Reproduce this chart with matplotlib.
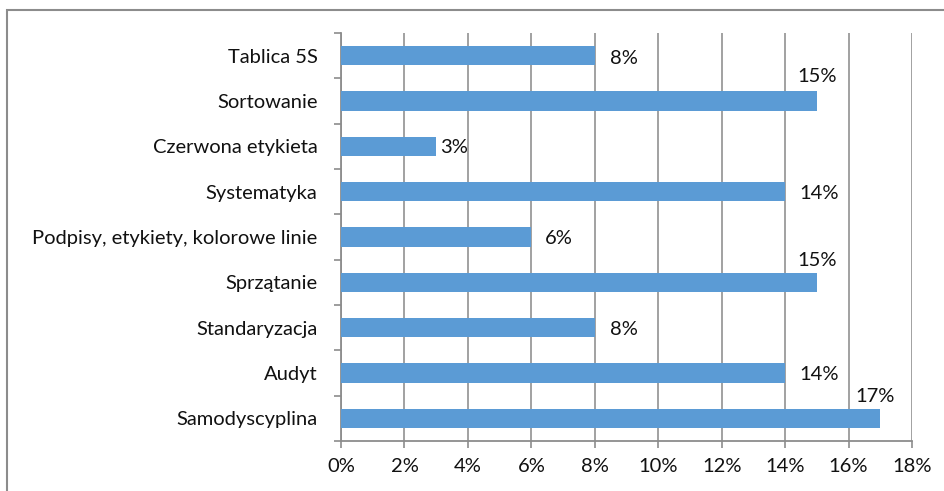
import numpy as np
import matplotlib.pyplot as plt
from matplotlib.patches import Rectangle

plt.rcParams['font.family'] = ['Lato', 'DejaVu Sans']

# data (top to bottom)
categories = ["Tablica 5S", "Sortowanie", "Czerwona etykieta", "Systematyka",
              "Podpisy, etykiety, kolorowe linie", "Sprzątanie", "Standaryzacja",
              "Audyt", "Samodyscyplina"]
values = [8, 15, 3, 14, 6, 15, 8, 14, 17]
xticks = [0, 2, 4, 6, 8, 10, 12, 14, 16, 18]

# label offsets in points (dx, dy, ha)
label_pos = [(11, -2, 'left'), (0, 18, 'center'), (3, -1, 'left'), (10, -1, 'left'),
             (10, -1, 'left'), (0, 16, 'center'), (11, -1, 'left'), (10, -1, 'left'),
             (-4, 16, 'center')]

FS = 14.5
TXT = '#111111'

fig = plt.figure(figsize=(9.44, 4.91), dpi=100)
ax = fig.add_axes([341/944, 50/491, (912-341)/944, (441-33)/491])

# outer chart frame
fig.patches.append(Rectangle((7/944, -0.05), 1.0, 1 - 10/491 + 0.05,
                             transform=fig.transFigure, fill=False,
                             edgecolor='#8c8c8c', linewidth=1.5))

y = np.arange(len(categories))
ax.barh(y, values, height=0.42, color='#5b9bd5', zorder=3)
ax.set_ylim(len(categories) - 0.5, -0.5)
ax.set_xlim(0, 18)

for i, v in enumerate(values):
    dx, dy, ha = label_pos[i]
    ax.annotate(f"{v}%", (v, i), xytext=(dx, dy), textcoords='offset points',
                ha=ha, va='center', fontsize=FS, color=TXT)

ax.set_xticks(xticks)
ax.set_xticklabels([f"{t}%" for t in xticks], fontsize=FS, color=TXT)
ax.set_yticks(y)
ax.set_yticklabels(categories, fontsize=FS, color=TXT)
ax.set_yticks(np.arange(-0.5, len(categories), 1), minor=True)

ax.tick_params(axis='y', which='major', length=0, pad=17)
ax.tick_params(axis='y', which='minor', length=5, width=1.2, color='#8c8c8c', direction='out')
ax.tick_params(axis='x', length=5, width=1.2, color='#8c8c8c', pad=7)

ax.grid(axis='x', color='#9a9a9a', linewidth=1.3, zorder=0)
for side in ['top', 'right']:
    ax.spines[side].set_visible(False)
for side in ['left', 'bottom']:
    ax.spines[side].set_color('#8c8c8c')
    ax.spines[side].set_linewidth(1.3)

fig.savefig('out.png', dpi=100)
